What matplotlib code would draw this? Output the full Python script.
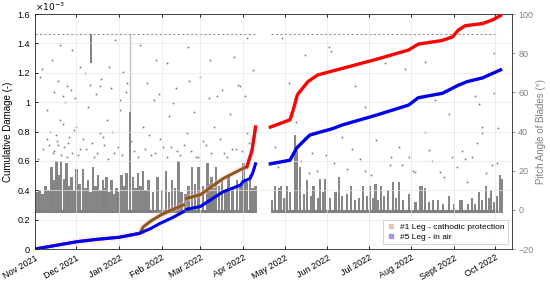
import numpy as np
import pandas as pd
import matplotlib
matplotlib.use("Agg")
import matplotlib.pyplot as plt
from matplotlib.lines import Line2D
from matplotlib.ticker import FuncFormatter

plt.rcParams['font.family'] = ['Liberation Sans', 'DejaVu Sans']

# x axis: days since 1 Nov 2021
start = pd.Timestamp("2021-11-01")
months = pd.date_range("2021-11-01", "2022-10-01", freq="MS")
month_days = np.array((months - start).days)
month_labels = ["Nov 2021", "Dec 2021", "Jan 2022", "Feb 2022", "Mar 2022", "Apr 2022",
                "May 2022", "Jun 2022", "Jul 2022", "Aug 2022", "Sept 2022", "Oct 2022"]

# cumulative damage (x1e-3), two measuring periods
red1_day = [0, 30.5, 45, 61, 76, 78.7, 84, 90.8, 100, 107.7, np.nan, 110, 120, 136.5, 149, 153.7, 157.4, 160]
red1_val = [0, 0.05, 0.066, 0.08, 0.107, 0.152, 0.19, 0.23, 0.27, 0.30, np.nan, 0.345, 0.37, 0.48, 0.54, 0.56, 0.67, 0.83]
blue1_day = [0, 30.5, 45, 61, 76, 84, 90.8, 100, 107.7, np.nan, 110, 120, 136.5, 149, 151, 156, 158, 160]
blue1_val = [0, 0.05, 0.066, 0.08, 0.107, 0.14, 0.175, 0.215, 0.254, np.nan, 0.27, 0.29, 0.39, 0.435, 0.46, 0.48, 0.52, 0.58]
red2_day = [170.7, 185, 187.4, 190.3, 198, 205, 223, 247, 271, 278, 295.5, 303, 307, 312, 324.6, 332, 337.7]
red2_val = [0.83, 0.88, 0.95, 1.05, 1.14, 1.185, 1.23, 1.29, 1.355, 1.395, 1.42, 1.445, 1.49, 1.52, 1.535, 1.56, 1.59]
blue2_day = [170.7, 185, 190, 199.3, 216, 223, 247, 271, 278, 295.5, 307, 313.6, 324.6, 337.7]
blue2_val = [0.58, 0.605, 0.69, 0.776, 0.82, 0.845, 0.91, 0.98, 1.03, 1.06, 1.115, 1.14, 1.165, 1.22]

# pitch angle bursts (day, top angle in deg)
spk1_day = [0, 1.7, 3.4, 5.6, 7.8, 9.8, 11.8, 13.6, 15.5, 17.2, 19, 21, 22.7, 24.5, 26.4, 28.2, 30, 32.4,
            34.9, 36.7, 38.5, 40.3, 42, 44, 45.8, 47.6, 49.4, 50.6, 51.8, 53.6, 55.4, 57.2, 59, 60.8,
            62.7, 64.5, 66.3, 71.2, 73, 74.8, 76.6, 78.4, 80.3, 82.3, 85.6, 89, 92, 95, 97.1, 99.3,
            101.6, 104, 106.5, 109, 111.4, 113.8, 116.2, 118.6, 121.8, 125, 126.6, 128.2, 129.7,
            131.2, 133.4, 135.6, 138, 140.4, 143.4, 146.5, 148.9, 151.3, 153.6, 156, 157.9, 159.8]
spk1_deg = [14, 9, 10, 8, 12, 10, 22, 15, 25, 18, 25, 16, 24, 12, 17, 10, 21, 13,
            21, 11, 15, 9, 22, 12, 18, 10, 15, 11, 17, 9, 15, 8, 11, 9,
            18, 12, 19, 17, 11, 19, 12, 20, 10, 15, 9, 17, 10, 20, 9, 15,
            11, 25, 9, 8, 12, 22, 13, 22, 12, 24, 13, 17, 11,
            22, 12, 15, 10, 18, 11, 15, 12, 24, 14, 18, 11, 12]
spk2_day = [172, 174, 177, 178.5, 181, 183, 185, 188.5, 190, 192, 195, 197.5, 200, 202, 205, 207,
            209, 210.6, 214, 218, 220.5, 223, 226, 229, 232, 235, 238, 241, 243, 245, 247, 249,
            251, 253, 256, 260, 262, 264, 267, 271, 276, 279, 281, 283, 286, 289, 292, 296, 300,
            304, 308, 310, 314, 317, 319, 322, 324, 327, 329, 330.5, 333, 335, 337, 338.5]
spk2_deg = [5, 12, 11, 12, 6, 12, 9, 38, 30, 22, 8, 15, 7, 12, 6, 16,
            9, 16, 6, 9, 17, 7, 8, 12, 5, 6, 12, 7, 12, 6, 13, 5,
            12, 7, 10, 14, 6, 14, 5, 8, 4, 12, 12, 11, 4, 5, 5, 3, 7,
            3, 5, 5, 3, 6, 3, 9, 5, 12, 6, 10, 4, 7, 18, 16]

# scattered pitch samples (day, deg)
sc_day = [3.6, 4.8, 12, 18, 26.6, 32.7, 36, 47, 54, 58, 64, 67, 76, 88, 95.6, 100, 111, 120, 127,
          132, 144, 149, 153.7, 158.5, 8.5, 18, 22, 30, 38.7, 47, 52, 61.7, 78.4, 86, 97, 110,
          115, 129.5, 141.6, 153.7, 10, 14, 16, 19, 21, 24, 27, 33, 43, 50, 57, 72, 84, 93,
          103, 118, 124, 137, 146, 155,
          2, 6, 9, 11, 13, 15, 17, 20, 23, 25, 28, 31, 35, 37, 41, 45, 49, 53, 56, 60, 63, 70,
          75, 80, 83, 87, 91, 96, 99, 105, 108, 113, 117, 122, 128, 134, 139, 143, 150, 157,
          14, 17, 20, 23, 26, 29, 40, 44, 48, 55, 62, 66, 81, 90, 102, 112, 126, 136, 147, 152,
          179, 184, 196, 213, 215, 232.4, 239.6, 254, 268.7, 283, 290.5, 300, 319.5, 322, 333,
          333, 324, 283, 264, 271, 276, 285.6, 302.6, 294, 320.8, 324.4, 317, 331.7, 313.5,
          257.8, 174, 201, 222.7, 230, 247, 239.6, 204.6, 186, 187, 189, 310, 336,
          176, 193, 199, 211, 217, 226, 236, 244, 258, 266, 274, 288, 297, 306, 312, 327, 335]
sc_deg = [68, 72, 76.5, 84, 81.6, 73, 70, 63, 73, 86.7, 70.5, 65, 84, 76.5, 75, 54.5, 83, 68, 76.5,
          58, 78, 63, 88, 71.4, 51, 46, 55, 42.5, 52.7, 39, 46, 51, 42.5, 56, 48, 39,
          50, 42.5, 49, 39, 33, 30, 35, 28, 32, 34, 29, 31, 27, 33, 29, 30, 28, 32,
          30, 27, 33, 29, 31, 34,
          26, 31, 36, 40, 29, 38, 33, 44, 27, 37, 41, 28, 36, 31, 34, 29, 37, 26, 40, 32, 28, 35,
          27, 31, 38, 29, 36, 27, 32, 28, 33, 30, 27, 35, 29, 36, 27, 31, 30, 28,
          60, 66, 58, 63, 61, 57, 64, 59, 67, 62, 56, 60, 65, 59, 62, 66, 57, 61, 64, 58,
          87.6, 64.6, 79, 83, 81, 63, 52.7, 75, 72, 75.6, 56, 49, 58, 54, 80,
          59.5, 42.5, 40, 32, 27, 19.5, 30.5, 27, 19.5, 34, 39, 27, 23, 14,
          23, 32, 29, 37, 31, 35.6, 20, 20, 48, 52, 45, 30, 42,
          22, 25, 19, 28, 24, 21, 26, 18, 27, 23, 20, 25, 17, 22, 26, 19, 24]

seg1 = [0, 160]
seg2 = [171, 336]

fig = plt.figure(figsize=(5.5, 2.83), dpi=100)
ax = fig.add_axes([0.0636, 0.12, 0.8673, 0.8305])
ax2 = ax.twinx()
ax.set_zorder(2)
ax.patch.set_visible(False)

gray = '#808080'
# pitch angle (right axis)
ax2.bar(spk1_day, np.array(spk1_deg) + 1.5, bottom=-1.5, width=1.9, color=gray, linewidth=0, alpha=0.95)
ax2.bar(spk2_day, np.array(spk2_deg) + 1.5, bottom=-1.5, width=1.5, color=gray, linewidth=0, alpha=0.95)
ax2.plot(seg1, [-0.5, -0.5], color=gray, lw=2.2, solid_capstyle='butt')
ax2.plot(seg2, [-0.5, -0.5], color=gray, lw=2.2, solid_capstyle='butt')
ax2.plot(seg1, [89.8, 89.8], color=gray, lw=0.8, ls=(0, (2, 2)), alpha=0.85)
ax2.plot(seg2, [89.8, 89.8], color=gray, lw=0.8, ls=(0, (2, 2)), alpha=0.85)
ax2.vlines([68.8], 0, 50, color=gray, lw=1.4)
ax2.vlines([68.8], 50, 90, color=gray, lw=1.0, alpha=0.5)
ax2.vlines([40.3], 75, 90, color=gray, lw=1.4)
ax2.scatter(sc_day, sc_deg, s=1.8, color=gray, linewidths=0)

ax2.set_ylim(-20, 100)
ax2.set_yticks(np.arange(-20, 101, 20))
ax2.tick_params(axis='y', colors=gray, labelsize=6.5, direction='out', length=2.5, width=0.6, pad=2)
ax2.set_ylabel('Pitch Angle of Blades (°)', color=gray, fontsize=7, labelpad=2)
for s in ax2.spines.values():
    s.set_visible(False)

# cumulative damage (left axis)
red1 = np.array(red1_val) * 1e-3
blue1 = np.array(blue1_val) * 1e-3
ax.plot(red1_day, red1, color='#ffc0d4', lw=5, alpha=0.3, zorder=2)
ax.plot(red1_day, red1, color='#8c5a1e', lw=2.2, zorder=3)
ax.plot(red1_day[-3:], red1[-3:], color='#e01010', lw=2.2, zorder=3)
ax.plot(blue1_day, blue1, color='#0000ee', lw=2.2, zorder=4)
ax.plot(red2_day, np.array(red2_val) * 1e-3, color='#ff0000', lw=2.4, zorder=3)
ax.plot(blue2_day, np.array(blue2_val) * 1e-3, color='#0000ee', lw=2.4, zorder=4)

ax.set_xlim(0, 346)
ax.set_ylim(0, 1.6e-3)
ax.set_yticks(np.arange(0, 1.61e-3, 0.2e-3))
ax.yaxis.set_major_formatter(FuncFormatter(lambda v, p: '%g' % round(v * 1e3, 3)))
ax.set_xticks(month_days)
ax.set_xticklabels(month_labels, rotation=30, ha='right', rotation_mode='anchor')
ax.tick_params(axis='x', labelsize=6.5, direction='in', length=2.5, width=0.6, top=True, pad=3)
ax.tick_params(axis='y', labelsize=6.5, direction='in', length=2.5, width=0.6)
ax.set_ylabel('Cumulative Damage (-)', fontsize=7, labelpad=3)
ax.grid(True, color='#e6e6e6', lw=0.5)
ax.set_axisbelow(True)
for s in ax.spines.values():
    s.set_color('#262626')
    s.set_linewidth(0.6)
ax.text(0.0, 1.005, r'$\times10^{-3}$', transform=ax.transAxes, fontsize=6.5, va='bottom', ha='left')

handles = [Line2D([], [], marker='s', ls='', color='#e0c8b8', markersize=2.5),
           Line2D([], [], marker='s', ls='', color='#9a9ae6', markersize=2.5)]
leg = ax.legend(handles, ['#1 Leg - cathodic protection', '#5 Leg - in air'], loc='lower right',
                bbox_to_anchor=(0.992, 0.02), borderaxespad=0, fontsize=6, fancybox=False,
                handlelength=1.2, handletextpad=0.5, borderpad=0.4, labelspacing=0.3)
leg.get_frame().set_edgecolor('#c0c0c0')
leg.get_frame().set_linewidth(0.6)

fig.savefig('out.png', dpi=100)
